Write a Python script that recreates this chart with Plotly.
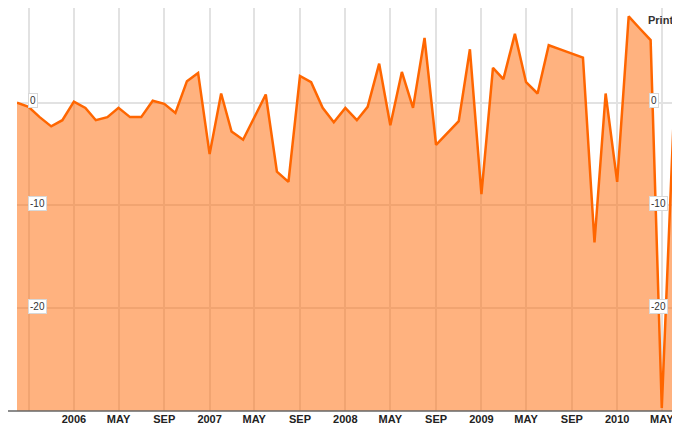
import pandas as pd
import plotly.graph_objects as go

# monthly values, Aug 2005 .. Jun 2010
months = pd.date_range("2005-08-01", periods=59, freq="MS")
values = [
    0.0, -0.4, -1.4, -2.3, -1.7, 0.1, -0.5, -1.7, -1.4, -0.5,
    -1.4, -1.4, 0.2, -0.1, -1.0, 2.1, 2.9, -5.0, 0.9, -2.8,
    -3.6, -1.4, 0.8, -6.7, -7.7, 2.6, 2.0, -0.5, -1.9, -0.5,
    -1.7, -0.4, 3.8, -2.2, 3.0, -0.5, 6.3, -4.1, -3.0, -1.8,
    5.2, -8.9, 3.4, 2.3, 6.7, 2.0, 0.9, 5.6, 5.2, 4.8,
    4.4, -13.6, 0.9, -7.7, 8.4, 7.3, 6.1, -29.7, -2.4,
]

tick_dates = pd.date_range("2005-09-01", "2010-05-01", freq="4MS")
tick_text = ["", "2006", "MAY", "SEP", "2007", "MAY", "SEP", "2008", "MAY",
             "SEP", "2009", "MAY", "SEP", "2010", "MAY"]
y_labels = [0, -10, -20]
y_floor = -30

# the page body has an 8px margin, so the figure is sized to fit what's left
W, H = 672, 415
L, B = 9, 12
PW, PH = W - L, H - B

fig = go.Figure()
fig.add_trace(go.Scatter(
    x=months, y=[y_floor] * len(months), mode="lines",
    line=dict(width=0), hoverinfo="skip", showlegend=False,
))
fig.add_trace(go.Scatter(
    x=months, y=values, mode="lines", fill="tonexty",
    fillcolor="rgba(255,102,0,0.5)",
    line=dict(color="#ff6600", width=2.5),
    showlegend=False,
))

fig.update_layout(
    width=W, height=H,
    margin=dict(l=L, r=0, t=0, b=B),
    plot_bgcolor="white", paper_bgcolor="white",
    font=dict(family="Liberation Sans, Arial, sans-serif", color="#333"),
)
fig.update_xaxes(
    range=["2005-08-01", "2010-06-19"], automargin=False,
    tickvals=tick_dates, ticktext=tick_text,
    showgrid=True, gridcolor="#e2e2e2", gridwidth=1.5,
    ticks="", zeroline=False, showline=False,
    tickfont=dict(size=11, color="#222", weight="bold"),
)
fig.update_yaxes(
    range=[y_floor, 9.22], tickvals=y_labels, showticklabels=False,
    automargin=False,
    showgrid=True, gridcolor="#e2e2e2", gridwidth=1.5, zeroline=False,
)

# bottom axis line across the full width
fig.add_shape(type="line", xref="paper", yref="paper",
              x0=-L / PW, x1=1, y0=0, y1=0,
              line=dict(color="#666", width=1.5))

# boxed value labels on both sides
for v in y_labels:
    for xp in (11 / PW, 632 / PW):
        fig.add_annotation(
            x=xp, xref="paper", y=v, yref="y", xanchor="left", yshift=2,
            text=str(v), showarrow=False, font=dict(size=10, color="#333"),
            bgcolor="white", bordercolor="#d8d8d8", borderwidth=1, borderpad=1,
        )

fig.add_annotation(
    x=(652 - L) / PW, xref="paper", y=(PH - 12) / PH, yref="paper",
    xanchor="center", yanchor="middle",
    text="<b>Print</b>", showarrow=False, font=dict(size=11, color="#333"),
)

fig.write_html("out.html")
